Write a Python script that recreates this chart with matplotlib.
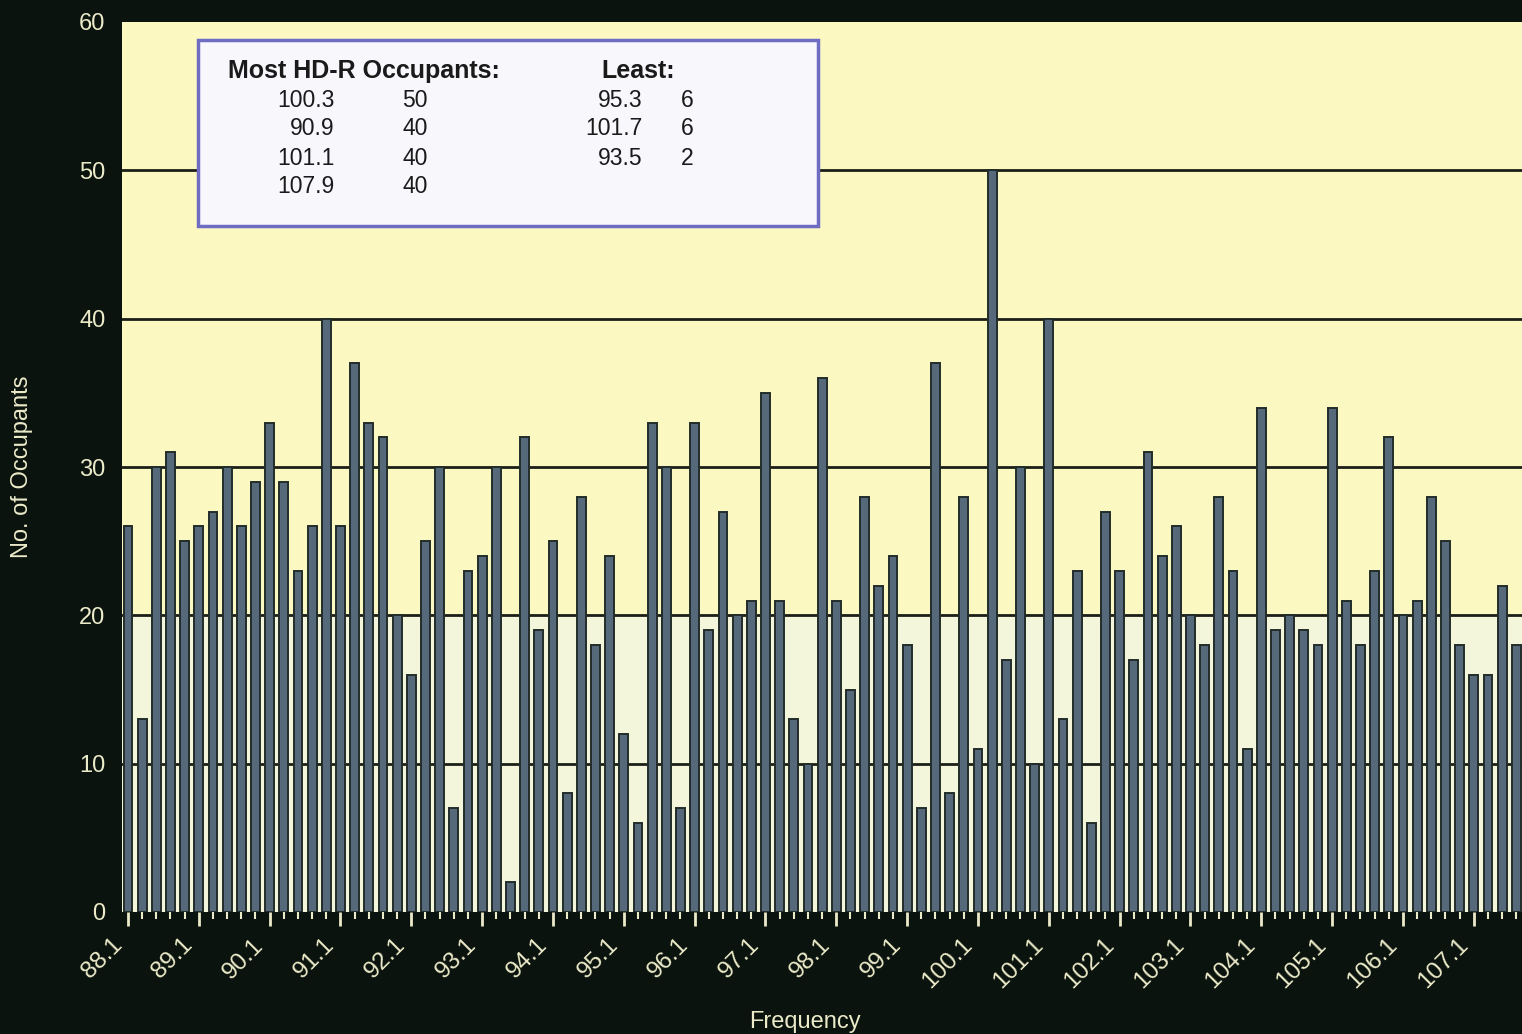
import numpy as np
import matplotlib.pyplot as plt
import matplotlib.patches as patches
import matplotlib.transforms as mtransforms

plt.rcParams['font.family'] = ['Liberation Sans', 'DejaVu Sans']

# FM channels 88.1 .. 107.9 in 0.2 MHz steps
freqs = np.round(np.arange(88.1, 107.95, 0.2), 1)
occupants = [26, 13, 30, 31, 25, 26, 27, 30, 26, 29,
             33, 29, 23, 26, 40, 26, 37, 33, 32, 20,
             16, 25, 30, 7, 23, 24, 30, 2, 32, 19,
             25, 8, 28, 18, 24, 12, 6, 33, 30, 7,
             33, 19, 27, 20, 21, 35, 21, 13, 10, 36,
             21, 15, 28, 22, 24, 18, 7, 37, 8, 28,
             11, 50, 17, 30, 10, 40, 13, 23, 6, 27,
             23, 17, 31, 24, 26, 20, 18, 28, 23, 11,
             34, 19, 20, 19, 18, 34, 21, 18, 23, 32,
             20, 21, 28, 25, 18, 16, 16, 22, 18, 40]
tick_labels = ['88.1', '89.1', '90.1', '91.1', '92.1', '93.1', '94.1',
               '95.1', '96.1', '97.1', '98.1', '99.1', '100.1', '101.1',
               '102.1', '103.1', '104.1', '105.1', '106.1', '107.1']
yticks = [0, 10, 20, 30, 40, 50, 60]

most_freq = ['100.3', '90.9', '101.1', '107.9']
most_val = ['50', '40', '40', '40']
least_freq = ['95.3', '101.7', '93.5']
least_val = ['6', '6', '2']

txt = '#ecebc9'
fig = plt.figure(figsize=(15.22, 10.34), dpi=100, facecolor='#0b130e')
ax = fig.add_axes([122/1522, 1 - 912/1034, 1400/1522, 890/1034])
ax.set_facecolor('#fcf8c2')
ax.axhspan(0, 20, color='#f4f6dc', zorder=0)

x = np.arange(len(freqs))
ax.bar(x, occupants, width=0.62, color='#56697b', edgecolor='#222d2a',
       linewidth=1.4, zorder=3)

for y in yticks[1:-1]:
    ax.axhline(y, color='#1c1f18', lw=2, zorder=1)

for s in ax.spines.values():
    s.set_visible(False)

major = [i for i in range(0, len(freqs), 5)]
ax.set_xticks(major)
ax.set_xticklabels(tick_labels, rotation=45, ha='right', va='top',
                   rotation_mode='anchor', color=txt, fontsize=17.5)
ax.set_xticks(x, minor=True)
ax.tick_params(axis='x', which='major', length=10, width=2, color=txt, pad=3)
ax.tick_params(axis='x', which='minor', length=5, width=1.5, color=txt)
ax.set_yticks(yticks)
ax.set_yticklabels([str(v) for v in yticks], color=txt, fontsize=17)
ax.tick_params(axis='y', length=0, pad=12)

# nudge the rotated labels so they hang left of their ticks
shift = mtransforms.ScaledTranslation(-0.17, -0.04, fig.dpi_scale_trans)
for lab in ax.get_xticklabels():
    lab.set_transform(lab.get_transform() + shift)

# limits last: set_xticks would widen them again
ax.set_xlim(-0.42, 98.4)
ax.set_ylim(0, 60)

# summary box
ax.add_patch(patches.Rectangle((0.0543, 0.771), 0.4427, 0.209,
                               transform=ax.transAxes, facecolor='#f7f7fc',
                               edgecolor='#6f6cc4', lw=2.5, zorder=5))
ax.text(0.0757, 0.945, 'Most HD-R Occupants:', transform=ax.transAxes,
        fontsize=18, fontweight='bold', va='center', color='#1a1a1a', zorder=6)
ax.text(0.369, 0.945, 'Least:', transform=ax.transAxes, ha='center',
        fontsize=18, fontweight='bold', va='center', color='#1a1a1a', zorder=6)
rows = [0.912, 0.880, 0.847, 0.815]
for i in range(len(most_freq)):
    ax.text(0.152, rows[i], most_freq[i], transform=ax.transAxes, ha='right',
            va='center', fontsize=16.5, color='#1a1a1a', zorder=6)
    ax.text(0.2186, rows[i], most_val[i], transform=ax.transAxes, ha='right',
            va='center', fontsize=16.5, color='#1a1a1a', zorder=6)
for i in range(len(least_freq)):
    ax.text(0.372, rows[i], least_freq[i], transform=ax.transAxes, ha='right',
            va='center', fontsize=16.5, color='#1a1a1a', zorder=6)
    ax.text(0.408, rows[i], least_val[i], transform=ax.transAxes, ha='right',
            va='center', fontsize=16.5, color='#1a1a1a', zorder=6)

fig.text(805/1522, 1 - 1022/1034, 'Frequency', ha='center', va='center',
         color=txt, fontsize=17)
fig.text(22/1522, 1 - 467/1034, 'No. of Occupants', ha='center', va='center',
         rotation=90, color=txt, fontsize=17)

fig.savefig('out.png', dpi=100, facecolor=fig.get_facecolor())
